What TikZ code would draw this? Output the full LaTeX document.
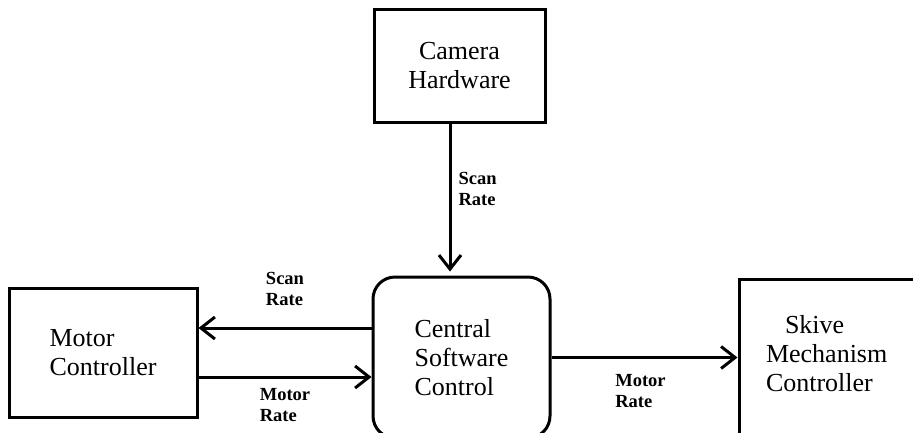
\documentclass[tikz,border=0pt]{standalone}
\usepackage{fontspec}
\setmainfont{Liberation Serif}
\usetikzlibrary{arrows.meta,positioning}
\tikzset{arrows={-{Straight Barb[length=14pt,width=22pt]}}}
\newcommand\blockfont{\fontsize{26}{29}\selectfont}
\newcommand\ratefont{\bfseries\fontsize{18.5}{21}\selectfont}

\begin{document}
\begin{tikzpicture}[x=1pt, y=-1pt, line width=3pt,
    block/.style={draw, rectangle, font=\blockfont},
    rate/.style={font=\ratefont, align=left, inner sep=0pt}]
    \clip (0,0) rectangle (913,432);

    \node[block, rounded corners=22pt, align=left, minimum width=177pt, minimum height=161pt]
        (central) at (461.5,357.5) {Central\\Software\\Control};
    \node[block, align=center, minimum width=171pt, minimum height=113pt]
        (camera) [above=152pt of central, xshift=-2pt] {Camera\\Hardware};
    \node[block, align=left, minimum width=188pt, minimum height=129pt]
        (motor) [left=173pt of central, yshift=5pt] {Motor\\Controller};
    % box runs off the page on the right and at the bottom
    \node[block, align=left, text width=149pt, text depth=91pt, minimum width=203pt, minimum height=181pt]
        (skive) [right=186pt of central.north east, anchor=north west, yshift=-2pt]
        {\hspace*{19pt}Skive\\Mechanism\\Controller};

    \coordinate (camtap) at ([xshift=-9.5pt]camera.south);
    \coordinate (scanin) at ([yshift=29.5pt]central.west);
    \coordinate (motorout) at ([yshift=-19.5pt]central.west);

    \draw[shorten >=4pt] (camtap) -- node[rate, pos=0.43, right=7pt] {Scan\\Rate} (camtap |- central.north);
    \draw (scanin) -- node[rate, above=21pt] {Scan\\Rate} (scanin -| motor.east);
    \draw (motorout -| motor.east) -- node[rate, below=10pt] {Motor\\Rate} (motorout);
    \draw (central.east) -- node[rate, below=15pt, xshift=-4pt] {Motor\\Rate} (central.east -| skive.west);
\end{tikzpicture}
\end{document}
